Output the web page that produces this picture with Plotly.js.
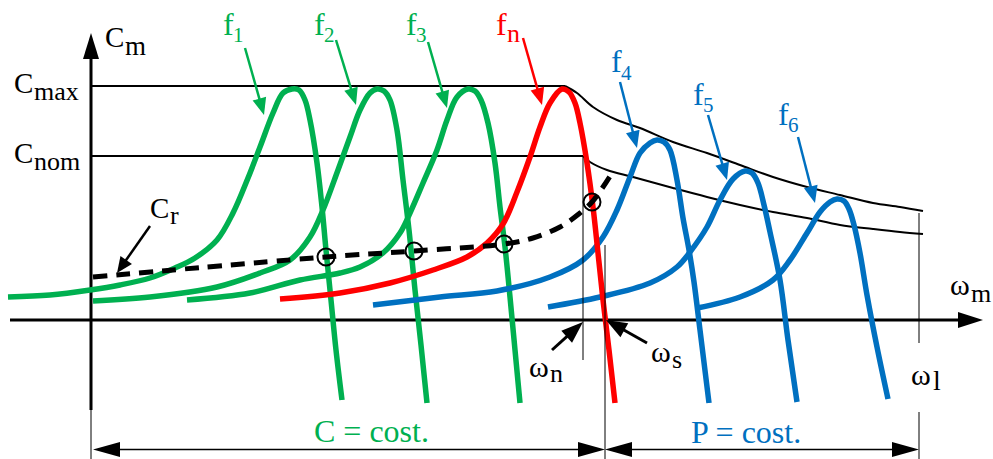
<!DOCTYPE html>
<html><head><meta charset="utf-8">
<script src="https://cdn.plot.ly/plotly-3.0.1.min.js"></script>
<style>html,body{margin:0;padding:0;background:#fff;}#chart{width:993px;height:459px;}</style>
</head><body><div id="chart"></div>
<script>
// ---- curve data (in picture units) ----
const f1X = [8, 50, 90, 120, 150, 175, 195, 217, 233, 248, 260, 273, 283, 292, 299, 305, 310, 317, 322, 326, 331, 336, 342];
const f1Y = [297, 295, 290, 285, 278, 268, 258, 240, 213, 178, 147, 113, 93, 89, 90, 100, 120, 163, 207, 250, 300, 350, 400];
const f2X = [93, 150, 217, 260, 290, 310, 323, 338, 350, 360, 370, 377, 384, 390, 397, 403, 409, 415, 421, 427];
const f2Y = [301, 297, 287, 273, 260, 237, 210, 170, 137, 110, 93, 89, 91, 100, 130, 180, 230, 290, 345, 403];
const f3X = [187, 250, 300, 340, 360, 383, 400, 410, 423, 437, 447, 457, 468, 475, 481, 488, 495, 500, 505, 510, 515, 520];
const f3Y = [300, 293, 280, 273, 267, 253, 233, 213, 183, 150, 120, 97, 89, 91, 100, 123, 163, 207, 247, 297, 350, 403];
const fnX = [280, 340, 390, 433, 467, 487, 503, 517, 530, 540, 550, 562, 569, 575, 580, 587, 593, 598, 603, 609, 615];
const fnY = [299, 293, 283, 270, 257, 243, 224, 192, 157, 127, 103, 89, 92, 103, 123, 163, 207, 253, 300, 350, 403];
const f4X = [373, 440, 497, 550, 583, 603, 617, 630, 640, 650, 657, 664, 670, 677, 683, 689, 694, 700, 709];
const f4Y = [305, 297, 291, 277, 260, 237, 210, 177, 153, 143, 140, 142, 150, 180, 218, 250, 282, 330, 403];
const f5X = [548, 600, 650, 677, 690, 707, 720, 733, 745, 752, 758, 764, 770, 780, 788, 797];
const f5Y = [307, 297, 283, 267, 252, 227, 200, 179, 171, 173, 183, 205, 232, 280, 340, 402];
const f6X = [697, 740, 773, 790, 807, 820, 830, 837, 844, 849, 854, 860, 867, 877, 888];
const f6Y = [308, 297, 280, 260, 233, 212, 202, 199, 201, 209, 225, 253, 295, 347, 399];
const crX = [93, 326, 414, 504, 533, 560, 580, 592, 603, 612];
const crY = [277, 257, 251, 244, 238, 227, 213, 202, 187, 173];
const opX = [326, 414, 504, 592];
const opY = [257, 251, 244, 202];
const cmaxX = [91, 565, 577, 593, 617, 640, 673, 707, 740, 773, 807, 840, 873, 900, 923];
const cmaxY = [86, 86, 93, 107, 120, 128, 142, 153, 165, 177, 187, 195, 203, 207, 211];
const cnomX = [91, 583, 590, 607, 633, 673, 707, 740, 773, 807, 840, 873, 900, 923];
const cnomY = [156, 156, 162, 170, 177, 188, 197, 205, 212, 218, 225, 229, 232, 234];

// ---- texts ----
const labelMain = ['C', 'C', 'C', 'C', 'f', 'f', 'f', 'f', 'f', 'f', 'f', 'ω', 'ω', 'ω', 'ω'];
const labelSub  = ['m', 'max', 'nom', 'r', '1', '2', '3', 'n', '4', '5', '6', 'm', 'n', 's', 'l'];
const bandText = ['C = cost.', 'P = cost.'];

// ---- styling / layout ----
const GREEN = '#00B050', RED = '#FF0000', BLUE = '#0070C0', BLACK = '#000000';
const FONT = 'Liberation Serif';
// [xMain, baselineMain, mainSize, xSub, baselineSub, subSize, color]
const labelPos = [
  [103, 47, 29, 123, 55, 27, BLACK],
  [12, 93, 29, 32, 100, 26, BLACK],
  [12, 163, 29, 32, 170, 26, BLACK],
  [148, 218, 29, 168, 224, 26, BLACK],
  [221, 35, 32, 231, 42, 21, GREEN],
  [312, 35, 32, 322, 42, 21, GREEN],
  [404, 35, 32, 414, 42, 21, GREEN],
  [494, 35, 32, 505, 42, 26, RED],
  [609, 72, 32, 619, 80, 21, BLUE],
  [691, 105, 32, 701, 112, 21, BLUE],
  [776, 125, 32, 786, 132, 21, BLUE],
  [948, 295, 30, 969, 302, 26, BLACK],
  [527, 377, 30, 548, 382, 26, BLACK],
  [649, 362, 30, 670, 368, 26, BLACK],
  [909, 385, 30, 931, 390, 28, BLACK]
];
const bandPos = [[371, 442, 32, GREEN], [746, 443, 32, BLUE]];
// arrows: [tailX, tailY, tipX, tipY, color, width, headLen, headHalf]
const arrows = [
  [245, 48, 264, 115, GREEN, 2.5, 17, 7],
  [336, 40, 356, 105, GREEN, 2.5, 17, 7],
  [428, 42, 447, 108, GREEN, 2.5, 17, 7],
  [523, 38, 542, 105, RED, 2.5, 17, 7],
  [620, 82, 637, 148, BLUE, 2.5, 17, 7],
  [708, 115, 727, 180, BLUE, 2.5, 17, 7],
  [798, 137, 815, 203, BLUE, 2.5, 17, 7],
  [150, 226, 117, 273, BLACK, 2.5, 16, 7],
  [552, 350, 583, 322, BLACK, 3, 22, 8],
  [647, 343, 606, 320, BLACK, 3, 21, 8],
  [91, 410, 91, 33, BLACK, 3, 26, 8],
  [10, 320, 983, 320, BLACK, 3, 25, 8],
  [350, 449.5, 93, 449.5, BLACK, 1.6, 27, 7.5],
  [350, 449.5, 605, 449.5, BLACK, 1.6, 27, 7.5],
  [760, 449.5, 605, 449.5, BLACK, 1.6, 27, 7.5],
  [760, 449.5, 919, 449.5, BLACK, 1.6, 27, 7.5]
];
// thin guide lines [x, y0, y1]
const guides = [[91, 410, 459], [583, 156, 360], [605, 245, 459], [919, 213, 343], [919, 412, 459]];

const traces = [];
function curve(x, y, color, w, shape) {
  traces.push({x: x, y: y, type: 'scatter', mode: 'lines', hoverinfo: 'skip',
    line: {color: color, width: w, shape: shape || 'spline', smoothing: 1}});
}
curve(cmaxX.slice(0, 2), cmaxY.slice(0, 2), BLACK, 2, 'linear');
curve(cmaxX.slice(1), cmaxY.slice(1), BLACK, 2);
curve(cnomX.slice(0, 2), cnomY.slice(0, 2), BLACK, 2, 'linear');
curve(cnomX.slice(1), cnomY.slice(1), BLACK, 2);
curve(f1X, f1Y, GREEN, 5.5);
curve(f2X, f2Y, GREEN, 5.5);
curve(f3X, f3Y, GREEN, 5.5);
curve(f4X, f4Y, BLUE, 5.5);
curve(f5X, f5Y, BLUE, 5.5);
curve(f6X, f6Y, BLUE, 5.5);
curve(fnX, fnY, RED, 5.5);
traces.push({x: crX, y: crY, type: 'scatter', mode: 'lines', hoverinfo: 'skip',
  line: {color: BLACK, width: 5, dash: '14px,9px', shape: 'spline', smoothing: 1}});
traces.push({x: opX, y: opY, type: 'scatter', mode: 'markers', hoverinfo: 'skip',
  marker: {symbol: 'circle-open', size: 17, color: BLACK, line: {width: 2, color: BLACK}}});

const shapes = [];
guides.forEach(g => shapes.push({type: 'line', xref: 'x', yref: 'y', x0: g[0], x1: g[0], y0: g[1], y1: g[2],
  line: {color: BLACK, width: 1}, layer: 'above'}));
arrows.forEach(a => {
  const [tx0, ty0, tx, ty, col, w, hl, hh] = a;
  const dx = tx - tx0, dy = ty - ty0, L = Math.hypot(dx, dy);
  const ux = dx / L, uy = dy / L, px = -uy, py = ux;
  const bx = tx - ux * hl, by = ty - uy * hl;
  const isAxis = (w === 3 && (tx0 === 91 || tx0 === 10));
  shapes.push({type: 'line', xref: 'x', yref: 'y', x0: tx0, y0: ty0, x1: bx + ux * 2, y1: by + uy * 2,
    line: {color: col, width: w}, layer: isAxis ? 'below' : 'above'});
  shapes.push({type: 'path', xref: 'x', yref: 'y',
    path: `M${tx},${ty} L${bx + px * hh},${by + py * hh} L${bx - px * hh},${by - py * hh} Z`,
    fillcolor: col, line: {width: 0}, layer: 'above'});
});

const ASC = 0.3375;
const annotations = [];
labelMain.forEach((m, i) => {
  const p = labelPos[i];
  annotations.push({x: p[0], y: p[1] - ASC * p[2], xref: 'x', yref: 'y', text: m, showarrow: false,
    xanchor: 'left', yanchor: 'middle', font: {family: FONT, size: p[2], color: p[6]}});
  annotations.push({x: p[3], y: p[4] - ASC * p[5], xref: 'x', yref: 'y', text: labelSub[i], showarrow: false,
    xanchor: 'left', yanchor: 'middle', font: {family: FONT, size: p[5], color: p[6]}});
});
bandText.forEach((t, i) => {
  const p = bandPos[i];
  annotations.push({x: p[0], y: p[1] - ASC * p[2], xref: 'x', yref: 'y', text: t, showarrow: false,
    xanchor: 'center', yanchor: 'middle', font: {family: FONT, size: p[2], color: p[3]}});
});

const layout = {
  width: 993, height: 459, autosize: false,
  margin: {l: 0, r: 0, t: 0, b: 0, pad: 0},
  paper_bgcolor: '#ffffff', plot_bgcolor: '#ffffff',
  showlegend: false,
  xaxis: {range: [0, 993], visible: false, fixedrange: true},
  yaxis: {range: [459, 0], visible: false, fixedrange: true},
  shapes: shapes, annotations: annotations
};
Plotly.newPlot('chart', traces, layout, {staticPlot: true, displayModeBar: false});
</script></body></html>
